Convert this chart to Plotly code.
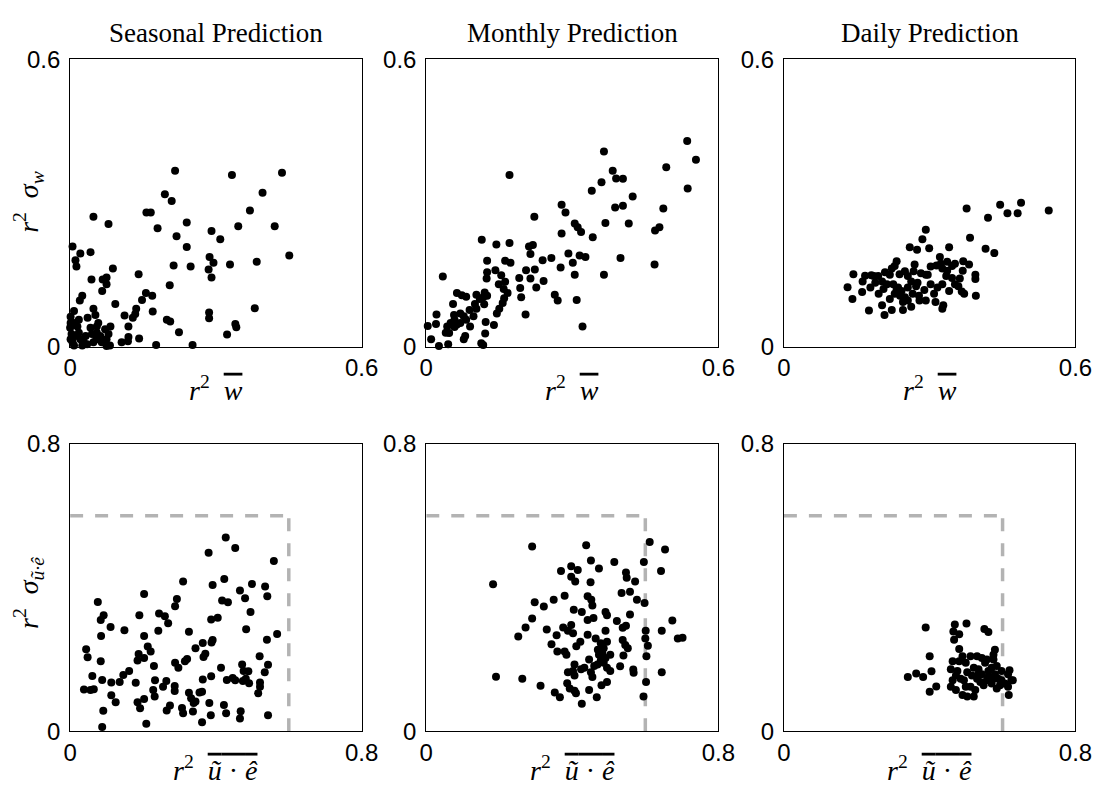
import plotly.graph_objects as go
from plotly.subplots import make_subplots

# ---------------- data ----------------
col_titles = ["Seasonal Prediction", "Monthly Prediction", "Daily Prediction"]
top_ticks = [0, 0.6]
top_ticktext = ["0", "0.6"]
bot_ticks = [0, 0.8]
bot_ticktext = ["0", "0.8"]
ref_level = 0.6

# Top row: r^2 mean(w) vs r^2 sigma_w
seas_w_x = [0.216, 0.333, 0.436, 0.396, 0.195, 0.209, 0.370, 0.157, 0.166, 0.048, 0.079, 0.180, 0.240, 0.291, 0.346,
            0.421, 0.219, 0.309, 0.240, 0.451, 0.005, 0.021, 0.042, 0.011, 0.013, 0.287, 0.295, 0.213, 0.248, 0.285,
            0.329, 0.384, 0.291, 0.088, 0.141, 0.044, 0.067, 0.075, 0.075, 0.066, 0.205, 0.025, 0.020, 0.156, 0.169,
            0.148, 0.093, 0.008, 0.048, 0.052, 0.136, 0.134, 0.112, 0.129, 0.170, 0.286, 0.286, 0.380, 0.199, 0.206,
            0.036, 0.058, 0.120, 0.340, 0.342, 0.083, 0.224, 0.323, 0.142, 0.120, 0.119, 0.106, 0.177, 0.252,
            0.001, 0.000, 0.003, 0.008, 0.015, 0.011, 0.018, 0.021, 0.028, 0.042, 0.045, 0.055, 0.062, 0.065, 0.075,
            0.082, 0.005, 0.035, 0.048, 0.072, 0.079, 0.025, 0.008, 0.001, 0.032, 0.054, 0.075, 0.018, 0.001, 0.055]
seas_w_y = [0.367, 0.358, 0.363, 0.321, 0.318, 0.304, 0.284, 0.280, 0.280, 0.271, 0.256, 0.247, 0.259, 0.241, 0.251,
            0.251, 0.230, 0.224, 0.208, 0.190, 0.209, 0.194, 0.197, 0.180, 0.167, 0.187, 0.175, 0.169, 0.167, 0.161,
            0.171, 0.177, 0.144, 0.163, 0.151, 0.140, 0.140, 0.144, 0.130, 0.116, 0.128, 0.106, 0.096, 0.112, 0.106,
            0.097, 0.089, 0.074, 0.079, 0.066, 0.079, 0.068, 0.065, 0.060, 0.073, 0.071, 0.059, 0.080, 0.056, 0.052,
            0.060, 0.049, 0.042, 0.047, 0.040, 0.042, 0.030, 0.025, 0.017, 0.020, 0.011, 0.009, 0.003, 0.003,
            0.062, 0.039, 0.026, 0.049, 0.042, 0.022, 0.029, 0.015, 0.009, 0.039, 0.026, 0.029, 0.022, 0.009, 0.015,
            0.002, 0.009, 0.005, 0.009, 0.036, 0.026, 0.002, 0.002, 0.015, 0.022, 0.015, 0.001, 0.056, 0.049, 0.042]

mon_w_x = [0.536, 0.554, 0.365, 0.493, 0.537, 0.171, 0.383, 0.390, 0.404, 0.360, 0.340, 0.424, 0.388, 0.404, 0.487,
           0.278, 0.286, 0.222, 0.368, 0.416, 0.305, 0.311, 0.318, 0.470, 0.479, 0.278, 0.342, 0.114, 0.144, 0.171,
           0.211, 0.219, 0.214, 0.292, 0.315, 0.327, 0.257, 0.239, 0.301, 0.399, 0.469, 0.125, 0.162, 0.173, 0.276,
           0.205, 0.223, 0.142, 0.154, 0.125, 0.124, 0.305, 0.365, 0.214, 0.191, 0.241, 0.162, 0.149, 0.226, 0.193,
           0.159, 0.167, 0.160, 0.157, 0.150, 0.145, 0.264, 0.270, 0.309, 0.195, 0.063, 0.073, 0.082, 0.103, 0.110,
           0.120, 0.125, 0.119, 0.055, 0.034, 0.204, 0.021, 0.003, 0.020, 0.122, 0.139, 0.121, 0.080, 0.077, 0.321,
           0.010, 0.026, 0.045, 0.117, 0.113, 0.058, 0.063, 0.090, 0.103, 0.097, 0.077, 0.082, 0.070, 0.057, 0.050,
           0.043, 0.040, 0.047, 0.058, 0.070, 0.089, 0.100, 0.117]
mon_w_y = [0.429, 0.390, 0.407, 0.374, 0.330, 0.358, 0.367, 0.351, 0.350, 0.343, 0.325, 0.313, 0.290, 0.294, 0.288,
           0.296, 0.280, 0.271, 0.258, 0.257, 0.257, 0.249, 0.239, 0.242, 0.249, 0.236, 0.228, 0.223, 0.213, 0.216,
           0.209, 0.212, 0.193, 0.194, 0.190, 0.187, 0.185, 0.180, 0.175, 0.185, 0.171, 0.179, 0.179, 0.175, 0.165,
           0.159, 0.161, 0.159, 0.149, 0.155, 0.142, 0.150, 0.150, 0.142, 0.143, 0.137, 0.135, 0.130, 0.123, 0.122,
           0.120, 0.112, 0.101, 0.091, 0.079, 0.069, 0.108, 0.096, 0.097, 0.103, 0.112, 0.107, 0.104, 0.108, 0.099,
           0.113, 0.106, 0.088, 0.089, 0.146, 0.067, 0.067, 0.043, 0.047, 0.051, 0.045, 0.027, 0.022, 0.015, 0.042,
           0.015, 0.001, 0.005, 0.003, 0.007, 0.041, 0.046, 0.042, 0.079, 0.063, 0.063, 0.056, 0.049, 0.066, 0.049,
           0.042, 0.029, 0.028, 0.056, 0.069, 0.076, 0.089, 0.103]

day_w_x = [0.376, 0.445, 0.488, 0.460, 0.481, 0.420, 0.545, 0.292, 0.285, 0.383, 0.259, 0.274, 0.299, 0.340, 0.415,
           0.433, 0.321, 0.232, 0.228, 0.269, 0.352, 0.346, 0.369, 0.381, 0.302, 0.314, 0.326, 0.143, 0.167, 0.180,
           0.194, 0.208, 0.218, 0.238, 0.255, 0.267, 0.282, 0.292, 0.336, 0.334, 0.368, 0.362, 0.394, 0.394, 0.131,
           0.141, 0.161, 0.178, 0.188, 0.202, 0.212, 0.225, 0.235, 0.242, 0.228, 0.249, 0.262, 0.272, 0.255, 0.275,
           0.289, 0.302, 0.316, 0.309, 0.340, 0.359, 0.366, 0.371, 0.395, 0.175, 0.202, 0.222, 0.207, 0.245, 0.262,
           0.279, 0.312, 0.326, 0.328, 0.232, 0.239, 0.255, 0.245, 0.265, 0.218, 0.195, 0.205, 0.292, 0.278, 0.326,
           0.346, 0.352, 0.185, 0.249, 0.296, 0.323, 0.336, 0.222, 0.162]
day_w_y = [0.288, 0.296, 0.300, 0.278, 0.278, 0.269, 0.284, 0.244, 0.224, 0.227, 0.207, 0.202, 0.205, 0.207, 0.204,
           0.195, 0.187, 0.178, 0.168, 0.171, 0.173, 0.168, 0.178, 0.171, 0.167, 0.169, 0.163, 0.151, 0.148, 0.149,
           0.147, 0.155, 0.150, 0.151, 0.147, 0.157, 0.153, 0.150, 0.158, 0.147, 0.158, 0.142, 0.150, 0.141, 0.124,
           0.099, 0.114, 0.123, 0.133, 0.136, 0.130, 0.130, 0.123, 0.116, 0.110, 0.103, 0.136, 0.126, 0.123, 0.133,
           0.118, 0.130, 0.123, 0.110, 0.116, 0.126, 0.115, 0.110, 0.106, 0.075, 0.086, 0.076, 0.066, 0.076, 0.083,
           0.096, 0.093, 0.079, 0.086, 0.120, 0.106, 0.096, 0.093, 0.110, 0.099, 0.110, 0.120, 0.096, 0.106, 0.130,
           0.143, 0.130, 0.147, 0.157, 0.150, 0.173, 0.177, 0.163, 0.136]

# Bottom row: r^2 mean(u.e) vs r^2 sigma_(u.e)
seas_ue_x = [0.427, 0.453, 0.380, 0.559, 0.310, 0.423, 0.391, 0.466, 0.499, 0.535, 0.541, 0.480, 0.417, 0.433, 0.293,
             0.288, 0.203, 0.076, 0.495, 0.244, 0.260, 0.269, 0.190, 0.084, 0.092, 0.111, 0.149, 0.242, 0.326, 0.387,
             0.405, 0.483, 0.568, 0.540, 0.085, 0.203, 0.391, 0.388, 0.364, 0.344, 0.044, 0.048, 0.213, 0.221, 0.188,
             0.185, 0.203, 0.084, 0.371, 0.366, 0.321, 0.315, 0.520, 0.543, 0.288, 0.297, 0.230, 0.414, 0.472, 0.476,
             0.489, 0.534, 0.162, 0.146, 0.136, 0.061, 0.088, 0.113, 0.180, 0.233, 0.264, 0.255, 0.287, 0.287, 0.364,
             0.387, 0.430, 0.446, 0.453, 0.474, 0.482, 0.491, 0.521, 0.521, 0.516, 0.038, 0.056, 0.065, 0.113, 0.125,
             0.228, 0.232, 0.326, 0.355, 0.362, 0.332, 0.339, 0.344, 0.337, 0.185, 0.192, 0.203, 0.265, 0.274, 0.307,
             0.310, 0.382, 0.386, 0.422, 0.428, 0.468, 0.466, 0.543, 0.362, 0.209, 0.091, 0.088]
seas_ue_y = [0.539, 0.510, 0.497, 0.474, 0.417, 0.424, 0.407, 0.392, 0.410, 0.403, 0.376, 0.370, 0.364, 0.359, 0.368,
             0.348, 0.382, 0.360, 0.332, 0.328, 0.320, 0.301, 0.323, 0.310, 0.323, 0.290, 0.281, 0.280, 0.277, 0.311,
             0.316, 0.284, 0.271, 0.255, 0.265, 0.265, 0.254, 0.247, 0.246, 0.231, 0.228, 0.206, 0.236, 0.222, 0.215,
             0.197, 0.204, 0.195, 0.216, 0.207, 0.201, 0.195, 0.209, 0.185, 0.191, 0.177, 0.182, 0.177, 0.186, 0.168,
             0.167, 0.164, 0.168, 0.157, 0.137, 0.154, 0.143, 0.136, 0.135, 0.142, 0.140, 0.124, 0.126, 0.112, 0.144,
             0.153, 0.143, 0.148, 0.142, 0.140, 0.146, 0.134, 0.136, 0.124, 0.106, 0.116, 0.115, 0.117, 0.100, 0.081,
             0.115, 0.097, 0.107, 0.108, 0.110, 0.092, 0.079, 0.083, 0.055, 0.081, 0.064, 0.090, 0.058, 0.072, 0.065,
             0.050, 0.079, 0.045, 0.073, 0.050, 0.056, 0.036, 0.045, 0.025, 0.021, 0.057, 0.012]

mon_ue_x = [0.183, 0.290, 0.438, 0.612, 0.654, 0.451, 0.473, 0.515, 0.596, 0.643, 0.369, 0.397, 0.415, 0.397, 0.408,
            0.450, 0.547, 0.549, 0.572, 0.535, 0.558, 0.577, 0.598, 0.297, 0.322, 0.349, 0.379, 0.442, 0.452, 0.455,
            0.404, 0.426, 0.491, 0.495, 0.558, 0.442, 0.458, 0.290, 0.272, 0.252, 0.330, 0.375, 0.397, 0.388, 0.402,
            0.357, 0.343, 0.359, 0.379, 0.384, 0.411, 0.422, 0.442, 0.464, 0.478, 0.486, 0.495, 0.491, 0.522, 0.538,
            0.547, 0.538, 0.545, 0.552, 0.540, 0.601, 0.600, 0.607, 0.603, 0.645, 0.674, 0.689, 0.702, 0.473, 0.491,
            0.504, 0.478, 0.469, 0.486, 0.495, 0.504, 0.406, 0.424, 0.402, 0.406, 0.388, 0.446, 0.460, 0.451, 0.455,
            0.531, 0.567, 0.568, 0.645, 0.191, 0.263, 0.313, 0.352, 0.366, 0.386, 0.393, 0.406, 0.410, 0.426, 0.446,
            0.467, 0.480, 0.495, 0.602, 0.595, 0.433, 0.482, 0.470]
mon_ue_y = [0.409, 0.514, 0.518, 0.527, 0.506, 0.475, 0.453, 0.471, 0.471, 0.446, 0.446, 0.459, 0.449, 0.430, 0.417,
            0.415, 0.442, 0.427, 0.417, 0.385, 0.388, 0.366, 0.357, 0.359, 0.347, 0.366, 0.377, 0.376, 0.366, 0.350,
            0.338, 0.332, 0.332, 0.323, 0.325, 0.310, 0.315, 0.314, 0.289, 0.264, 0.283, 0.289, 0.296, 0.280, 0.273,
            0.267, 0.242, 0.222, 0.222, 0.213, 0.237, 0.249, 0.269, 0.258, 0.245, 0.231, 0.249, 0.280, 0.307, 0.288,
            0.294, 0.254, 0.240, 0.231, 0.211, 0.280, 0.258, 0.238, 0.209, 0.280, 0.308, 0.258, 0.260, 0.213, 0.204,
            0.213, 0.197, 0.186, 0.191, 0.177, 0.168, 0.186, 0.173, 0.168, 0.155, 0.164, 0.200, 0.182, 0.164, 0.151,
            0.181, 0.172, 0.163, 0.164, 0.152, 0.146, 0.127, 0.108, 0.095, 0.134, 0.119, 0.113, 0.106, 0.077, 0.115,
            0.095, 0.128, 0.137, 0.137, 0.097, 0.177, 0.218, 0.227]

day_ue_x = [0.389, 0.469, 0.465, 0.481, 0.467, 0.501, 0.550, 0.561, 0.481, 0.400, 0.340, 0.363, 0.382, 0.405, 0.400,
            0.418, 0.579, 0.575, 0.619, 0.624, 0.615, 0.617, 0.463, 0.458, 0.463, 0.458, 0.472, 0.490, 0.503, 0.521,
            0.525, 0.512, 0.494, 0.503, 0.512, 0.530, 0.543, 0.552, 0.570, 0.579, 0.588, 0.593, 0.584, 0.570, 0.557,
            0.543, 0.534, 0.521, 0.481, 0.490, 0.476, 0.485, 0.530, 0.548, 0.561, 0.584, 0.597, 0.539, 0.561, 0.499,
            0.516, 0.472, 0.597, 0.575, 0.557, 0.499, 0.534, 0.575, 0.606, 0.628, 0.615]
day_ue_y = [0.289, 0.297, 0.278, 0.270, 0.255, 0.300, 0.285, 0.276, 0.229, 0.209, 0.151, 0.161, 0.151, 0.167, 0.110,
            0.125, 0.227, 0.213, 0.170, 0.142, 0.124, 0.101, 0.195, 0.173, 0.142, 0.124, 0.115, 0.101, 0.097, 0.097,
            0.115, 0.124, 0.142, 0.164, 0.209, 0.209, 0.204, 0.191, 0.177, 0.159, 0.146, 0.128, 0.119, 0.133, 0.142,
            0.159, 0.173, 0.177, 0.195, 0.209, 0.168, 0.146, 0.146, 0.128, 0.168, 0.182, 0.168, 0.137, 0.151, 0.124,
            0.155, 0.155, 0.142, 0.200, 0.200, 0.191, 0.159, 0.146, 0.133, 0.142, 0.159]

# ---------------- figure ----------------
W, H = 1114, 790
fig = make_subplots(rows=2, cols=3)

col_dom = [(64.5 / W, 362.5 / W), (428.5 / W, 727.0 / W), (794.0 / W, 1092.0 / W)]
row_dom = [((H - 344.3) / H, (H - 46.7) / H), ((H - 742.7) / H, (H - 445.0) / H)]

dash_style = dict(color="#b3b3b3", width=3.5, dash="13px,12px")
marker_style = dict(color="black", size=8, line=dict(width=0))

top_sets = [(seas_w_x, seas_w_y), (mon_w_x, mon_w_y), (day_w_x, day_w_y)]
bot_sets = [(seas_ue_x, seas_ue_y), (mon_ue_x, mon_ue_y), (day_ue_x, day_ue_y)]

for c in range(3):
    fig.add_trace(go.Scatter(x=top_sets[c][0], y=top_sets[c][1], mode="markers", marker=marker_style,
                             cliponaxis=False, showlegend=False, hoverinfo="x+y"), row=1, col=c + 1)
    fig.add_trace(go.Scatter(x=[0, ref_level], y=[ref_level, ref_level], mode="lines", line=dash_style,
                             showlegend=False, hoverinfo="skip"), row=2, col=c + 1)
    fig.add_trace(go.Scatter(x=[ref_level, ref_level], y=[0, ref_level], mode="lines", line=dash_style,
                             showlegend=False, hoverinfo="skip"), row=2, col=c + 1)
    fig.add_trace(go.Scatter(x=bot_sets[c][0], y=bot_sets[c][1], mode="markers", marker=marker_style,
                             cliponaxis=False, showlegend=False, hoverinfo="x+y"), row=2, col=c + 1)

tick_font = dict(family="Liberation Sans, Arial, sans-serif", size=24, color="black")
axis_common = dict(showline=True, mirror=True, linecolor="black", linewidth=1, showgrid=False,
                   zeroline=False, ticks="", tickfont=tick_font)

for r in range(2):
    for c in range(3):
        idx = r * 3 + c + 1
        xa = "xaxis" if idx == 1 else f"xaxis{idx}"
        ya = "yaxis" if idx == 1 else f"yaxis{idx}"
        if r == 0:
            rng, tv, tt = [0, 0.6], top_ticks, top_ticktext
        else:
            rng, tv, tt = [0, 0.8], bot_ticks, bot_ticktext
        fig.layout[xa].update(domain=list(col_dom[c]), range=rng, tickvals=tv, ticktext=tt, **axis_common)
        fig.layout[ya].update(domain=list(row_dom[r]), range=rng, tickvals=tv, ticktext=tt,
                              ticklabelstandoff=4, **axis_common)

serif = "Liberation Serif, Times New Roman, serif"
annotations = []
for c in range(3):
    xc = (col_dom[c][0] + col_dom[c][1]) / 2
    annotations.append(dict(text=col_titles[c], x=xc, y=(H - 20) / H, xref="paper", yref="paper",
                            xanchor="center", yanchor="middle", showarrow=False,
                            font=dict(family=serif, size=27, color="black")))
    annotations.append(dict(text="<i>r</i><sup>2</sup>  <span style='text-decoration:overline'><i>w</i></span>",
                            x=xc, y=(H - 388) / H, xref="paper", yref="paper",
                            xanchor="center", yanchor="middle", showarrow=False,
                            font=dict(family=serif, size=28, color="black")))
    annotations.append(dict(text="<i>r</i><sup>2</sup>  <span style='text-decoration:overline'><i>ũ</i> · <i>ê</i></span>",
                            x=xc, y=(H - 781) / H, xref="paper", yref="paper",
                            xanchor="center", yanchor="middle", showarrow=False,
                            font=dict(family=serif, size=28, color="black")))

annotations.append(dict(text="<i>r</i><sup>2</sup>  <i>σ</i><sub><i>w</i></sub>",
                        x=22 / W, y=(H - 195) / H, xref="paper", yref="paper", textangle=-90,
                        xanchor="center", yanchor="middle", showarrow=False,
                        font=dict(family=serif, size=28, color="black")))
annotations.append(dict(text="<i>r</i><sup>2</sup>  <i>σ</i><sub><i>ũ·ê</i></sub>",
                        x=22 / W, y=(H - 600) / H, xref="paper", yref="paper", textangle=-90,
                        xanchor="center", yanchor="middle", showarrow=False,
                        font=dict(family=serif, size=28, color="black")))

fig.update_layout(width=W, height=H, margin=dict(l=0, r=0, t=0, b=0, pad=0),
                  paper_bgcolor="white", plot_bgcolor="white", annotations=annotations,
                  showlegend=False)

fig.write_html("out.html")
